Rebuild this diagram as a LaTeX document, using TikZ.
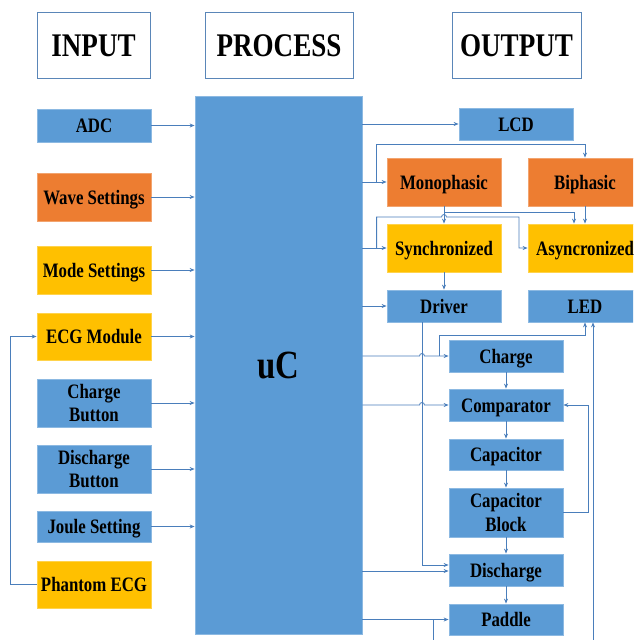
\documentclass[tikz,border=0pt]{standalone}
\usepackage{fontspec}
\setmainfont{Liberation Serif}[FakeStretch=0.82]
\usetikzlibrary{arrows.meta,calc}
\definecolor{boxblue}{HTML}{5B9BD5}
\definecolor{boxorange}{HTML}{ED7D31}
\definecolor{boxyellow}{HTML}{FFC000}
\definecolor{wirecol}{HTML}{4A7EBB}
\definecolor{framecol}{HTML}{5A86B8}

\begin{document}
\begin{tikzpicture}[x=1pt,y=-1pt,
  lbl/.style={font=\fontsize{20.5}{23.5}\selectfont\bfseries, align=center, inner sep=0pt, text=black},
  blk/.style={lbl, draw=#1!70!white, fill=#1, line width=0.8pt, minimum width=114pt},
  oneline/.style={text height=14pt, text depth=0pt},
  hdr/.style={draw=framecol, line width=0.8pt, fill=white, font=\fontsize{33}{36}\selectfont\bfseries, inner sep=0pt, minimum height=66pt, text height=22pt, text depth=0pt},
  wire/.style={draw=wirecol, line width=0.8pt},
  arr/.style={wire, -{Stealth[length=5pt,width=4pt]}},
]
\useasboundingbox (0,0) rectangle (633,640);
\clip (0,0) rectangle (633,640);

% column headings
\node[hdr, minimum width=113pt] (hin)   at (93.5,45)  {INPUT};
\node[hdr, minimum width=148pt] (hproc) at (279,45)   {PROCESS};
\node[hdr, minimum width=129pt] (hout)  at (516.5,45) {OUTPUT};

% microcontroller
\node[draw=boxblue!70!white, fill=boxblue, line width=0.8pt, minimum width=167pt, minimum height=538pt,
      inner sep=0pt, font=\fontsize{40}{44}\selectfont\bfseries, text height=27pt, text depth=0pt] (uc) at (278.5,365) {uC};

% inputs
\node[blk=boxblue,   oneline, minimum height=33pt] (adc)     at (94,125.5) {ADC};
\node[blk=boxorange, oneline, minimum height=48pt] (wave)    at (94,197)   {Wave Settings};
\node[blk=boxyellow, oneline, minimum height=48pt] (mode)    at (94,270)   {Mode Settings};
\node[blk=boxyellow, oneline, minimum height=47pt] (ecg)     at (94,336.5) {ECG Module};
\node[blk=boxblue,   minimum height=48pt] (chb)     at (94,403)   {Charge\\Button};
\node[blk=boxblue,   minimum height=48pt] (dchb)    at (94,469)   {Discharge\\Button};
\node[blk=boxblue,   oneline, minimum height=31pt] (joule)   at (94,526.5) {Joule Setting};
\node[blk=boxyellow, oneline, minimum height=47pt] (phantom) at (94,584.5) {Phantom ECG};

% outputs
\node[blk=boxblue,   oneline, minimum height=32pt] (lcd)    at (516,124)   {LCD};
\node[blk=boxorange, oneline, minimum height=48pt] (mono)   at (444,182)   {Monophasic};
\node[blk=boxorange, oneline, minimum height=48pt] (bi)     at (585,182)   {Biphasic};
\node[blk=boxyellow, oneline, minimum height=48pt] (sync)   at (444,248)   {Synchronized};
\node[blk=boxyellow, oneline, minimum height=48pt] (async)  at (585,248)   {Asyncronized};
\node[blk=boxblue,   oneline, minimum height=32pt] (driver) at (444,306)   {Driver};
\node[blk=boxblue,   oneline, minimum height=32pt] (led)    at (585,306)   {LED};
\node[blk=boxblue,   oneline, minimum height=32pt] (charge) at (506,356)   {Charge};
\node[blk=boxblue,   oneline, minimum height=32pt] (comp)   at (506,405)   {Comparator};
\node[blk=boxblue,   oneline, minimum height=31pt] (cap)    at (506,454.5) {Capacitor};
\node[blk=boxblue,   minimum height=49pt] (capb)   at (506,512.5) {Capacitor\\Block};
\node[blk=boxblue,   oneline, minimum height=32pt] (dis)    at (506,570)   {Discharge};
\node[blk=boxblue,   oneline, minimum height=31pt] (pad)    at (506,619.5) {Paddle};

% inputs into the controller
\foreach \n in {adc,wave,mode,ecg,chb,dchb,joule}
  \draw[arr] (\n.east) -- (\n.east -| uc.west);
\draw[arr] (phantom.west) -- ++(-26,0) |- (ecg.west);

% controller to outputs
\draw[arr] (lcd.west -| uc.east) -- (lcd.west);
\draw[arr] (mono.west -| uc.east) -- (mono.west);
\draw[arr] ($(mono.west)+(-10,0)$) |- ($(bi.north)+(0,-13)$) -- (bi.north);
\draw[arr] (sync.west -| uc.east) -- (sync.west);
\draw[arr] ($(sync.west)+(-10,0)$) -- ++(0,-31) -- (441.5,217) arc (180:360:2.5) -- (519,217) |- (async.west);
\draw[arr] (mono.south) -- (sync.north);
\draw[arr] ($(mono.south)+(0,6)$) -| ($(async.north)+(-11,0)$);
\draw[arr] (bi.south) -- (async.north);
\draw[arr] (sync.south) -- (driver.north);
\draw[arr] (driver.west -| uc.east) -- (driver.west);

% driver line down to the discharge stage
\coordinate (drv) at ($(driver.south)+(-22,0)$);
\draw[arr] (drv) |- ($(dis.west)+(0,-5)$);

% charge and comparator feeds, hopping over the driver line
\draw[arr] (charge.west -| uc.east) -- ($(drv |- charge.west)+(-2.5,0)$) arc (180:360:2.5) -- (charge.west);
\draw[arr] ($(charge.west)+(-9,0)$) |- ($(led.south)+(0,13)$) -- (led.south);
\draw[arr] (comp.west -| uc.east) -- ($(drv |- comp.west)+(-2.5,0)$) arc (180:360:2.5) -- (comp.west);

% charging chain
\draw[arr] (charge.south) -- (comp.north);
\draw[arr] (comp.south) -- (cap.north);
\draw[arr] (cap.south) -- (capb.north);
\draw[arr] (capb.south) -- (dis.north);
\draw[arr] (dis.south) -- (pad.north);
\draw[arr] (capb.east) -- ++(25,0) |- (comp.east);

% discharge and paddle feeds
\draw[arr] ($(dis.west -| uc.east)+(0,1)$) -- ($(dis.west)+(0,1)$);
\draw[arr] (pad.west -| uc.east) -- (pad.west);
\draw[wire] ($(pad.west)+(-15,0)$) -- ++(0,40);
\draw[arr] ($(led.south)+(8,330)$) -- ($(led.south)+(8,0)$);
\end{tikzpicture}
\end{document}
